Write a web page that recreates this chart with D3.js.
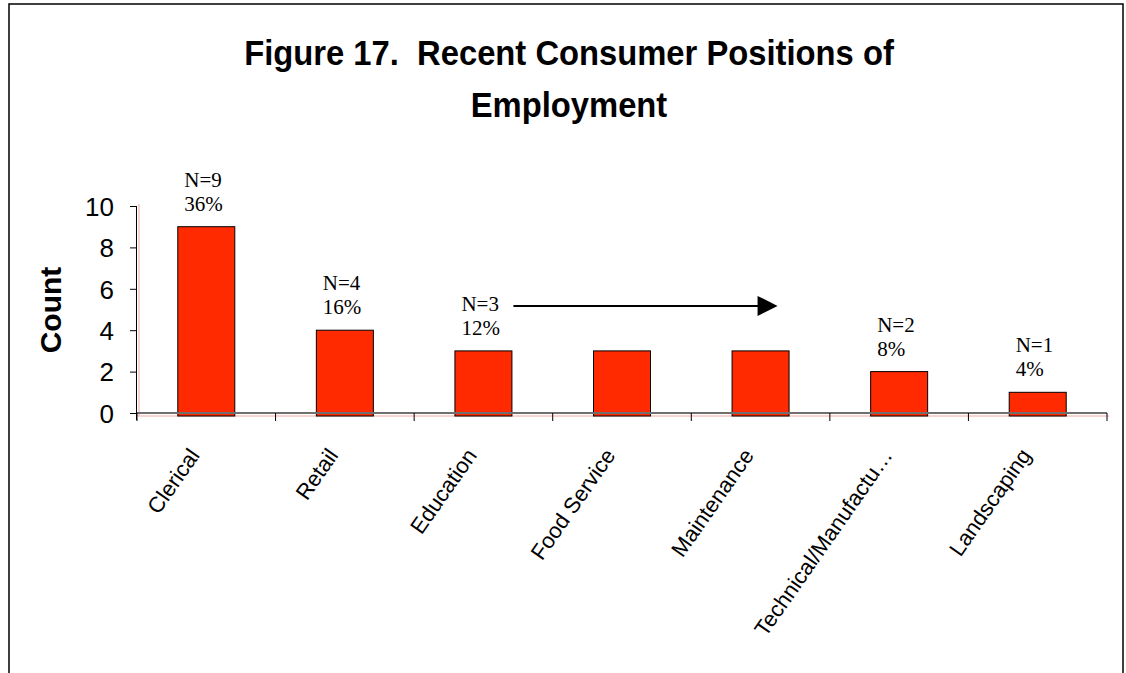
<!DOCTYPE html>
<html>
<head>
<meta charset="utf-8">
<script src="https://d3js.org/d3.v7.min.js"></script>
<style>
  body { margin: 0; background: #fff; }
  .axis text { font-family: "Liberation Sans", Arial, sans-serif; fill: #000; }
  .note { font-family: "Liberation Serif", "Times New Roman", serif; font-size: 21px; fill: #000; }
</style>
</head>
<body>
<script>
var categories = ["Clerical", "Retail", "Education", "Food Service", "Maintenance", "Technical/Manufactu\u2026", "Landscaping"];
var counts = [9, 4, 3, 3, 3, 2, 1];
var yTicks = [0, 2, 4, 6, 8, 10];
// N / percent notes above bars (Food Service and Maintenance share the arrow)
var noteN = ["N=9", "N=4", "N=3", "", "", "N=2", "N=1"];
var notePct = ["36%", "16%", "12%", "", "", "8%", "4%"];

var W = 1126, H = 673;
var margin = {top: 206, left: 137},
    width = 970, height = 207;

var svg = d3.select("body").append("svg")
  .attr("width", W).attr("height", H);

// outer frame
svg.append("rect")
  .attr("x", 9).attr("y", 4).attr("width", 1114).attr("height", 700)
  .attr("fill", "none").attr("stroke", "#000").attr("stroke-width", 1.5);

// title (narrow bold look)
var title = svg.append("g")
  .attr("transform", "translate(569,0) scale(0.91,1)")
  .append("text")
  .attr("text-anchor", "middle")
  .style("font-family", "'Liberation Sans', Arial, sans-serif")
  .style("font-weight", "bold").style("font-size", "36px");
title.append("tspan").attr("x", 0).attr("y", 65).text("Figure 17.\u00a0 Recent Consumer Positions of");
title.append("tspan").attr("x", 0).attr("y", 117).text("Employment");

var g = svg.append("g")
  .attr("transform", "translate(" + margin.left + "," + margin.top + ")");

var x = d3.scaleBand().domain(categories).range([0, width]).paddingInner(0).paddingOuter(0);
var y = d3.scaleLinear().domain([0, 10]).range([height, 0]);
var barW = 57;

// faint pink shadow axis lines
g.append("line").attr("x1", 2).attr("x2", 2).attr("y1", -2).attr("y2", height + 3)
  .attr("stroke", "#f4a8a0").attr("stroke-width", 1);
g.append("line").attr("x1", 0).attr("x2", width + 2).attr("y1", height + 3).attr("y2", height + 3)
  .attr("stroke", "#f4a8a0").attr("stroke-width", 1);

// y axis
var yAxis = g.append("g").attr("class", "axis")
  .call(d3.axisLeft(y).tickValues(yTicks).tickSize(7).tickPadding(16));
yAxis.select(".domain").attr("stroke", "#000").attr("d", "M-0.5," + (height + 7) + "V0");
yAxis.selectAll("text").style("font-size", "26px").attr("dy", "0.36em");

// bars
g.selectAll(".bar")
  .data(counts)
  .enter().append("rect")
  .attr("class", "bar")
  .attr("x", function(d, i) { return x(categories[i]) + x.bandwidth() / 2 - barW / 2; })
  .attr("width", barW)
  .attr("y", function(d) { return y(d); })
  .attr("height", function(d) { return height - y(d) + 3; })
  .attr("fill", "#ff2a00")
  .attr("stroke", "#000").attr("stroke-width", 1);

// x axis
var xAxisG = g.append("g").attr("class", "axis")
  .attr("transform", "translate(0," + height + ")");
xAxisG.append("line").attr("x1", 0).attr("x2", width).attr("y1", 0).attr("y2", 0)
  .attr("stroke", "#6f6f6f").attr("stroke-width", 2);
var bounds = categories.map(function(c) { return x(c); }).concat([width]);
xAxisG.selectAll(".xtick")
  .data(bounds)
  .enter().append("line")
  .attr("class", "xtick")
  .attr("x1", function(d) { return d; }).attr("x2", function(d) { return d; })
  .attr("y1", 0).attr("y2", 8)
  .attr("stroke", "#000").attr("stroke-width", 1);
xAxisG.selectAll(".xlab")
  .data(categories)
  .enter().append("text")
  .attr("class", "xlab")
  .attr("text-anchor", "end")
  .style("font-size", "22px")
  .attr("transform", function(d) {
    return "translate(" + (x(d) + x.bandwidth() / 2 - 12) + ",38) rotate(-55)";
  })
  .attr("dy", "0.35em")
  .text(function(d) { return d; });

// notes
var notes = g.selectAll(".noteG")
  .data(categories)
  .enter().append("g")
  .attr("class", "noteG");
notes.append("text").attr("class", "note")
  .attr("x", function(d) { return x(d) + x.bandwidth() / 2 - 22; })
  .attr("y", function(d, i) { return y(counts[i]) - 40; })
  .text(function(d, i) { return noteN[i]; });
notes.append("text").attr("class", "note")
  .attr("x", function(d) { return x(d) + x.bandwidth() / 2 - 22; })
  .attr("y", function(d, i) { return y(counts[i]) - 16; })
  .text(function(d, i) { return notePct[i]; });

// arrow from Education note across Food Service and Maintenance
var ay = y(counts[2]) - 45;
var ax1 = x(categories[2]) + x.bandwidth() / 2 + 30;
var ax2 = x(categories[4]) + x.bandwidth() / 2 + 17;
g.append("line").attr("x1", ax1).attr("x2", ax2 - 18).attr("y1", ay).attr("y2", ay)
  .attr("stroke", "#000").attr("stroke-width", 2);
g.append("path")
  .attr("d", "M" + (ax2 - 20) + "," + (ay - 10) + "L" + ax2 + "," + ay + "L" + (ax2 - 20) + "," + (ay + 10) + "Z")
  .attr("fill", "#000");

// y title
svg.append("text")
  .attr("transform", "translate(61,310) rotate(-90)")
  .attr("text-anchor", "middle")
  .style("font-family", "'Liberation Sans', Arial, sans-serif")
  .style("font-weight", "bold").style("font-size", "30px")
  .text("Count");
</script>
</body>
</html>
